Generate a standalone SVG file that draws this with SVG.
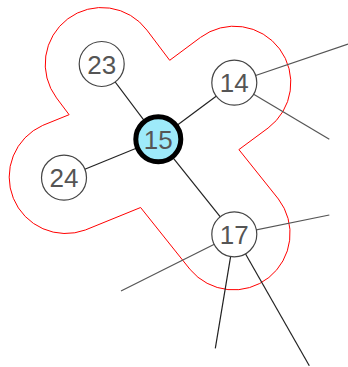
<svg xmlns="http://www.w3.org/2000/svg" width="348" height="367" viewBox="0 0 348 367">
<style>
.e{stroke:#222;stroke-width:1.2;fill:none}
.g{stroke:#555;stroke-width:1.2;fill:none}
.n circle{fill:#fff;stroke:#444;stroke-width:1.2}
.n text{font-family:"Liberation Sans",Arial,sans-serif;font-size:26px;fill:#555;text-anchor:middle}
#hull{fill:none;stroke:#f00;stroke-width:1}
</style>
<rect width="348" height="367" fill="#fff"/>
<path id="hull" d="M 69.1 114.7 L 56.5 97.9 A 56.5 56.5 0 0 1 146.9 30.1 L 169.7 60.3 L 200.5 37.4 A 56.5 56.5 0 0 1 268.1 128.0 L 238.9 149.6 L 278.4 199.0 A 56.5 56.5 0 0 1 190.2 269.6 L 140.6 207.5 L 85.3 230.0 A 56.5 56.5 0 0 1 42.7 125.4 Z"/>
<g id="connectors">
<line class="e" x1="158.3" y1="139.3" x2="101.7" y2="64"/>
<line class="e" x1="158.3" y1="139.3" x2="234.3" y2="82.7"/>
<line class="e" x1="158.3" y1="139.3" x2="64" y2="177.7"/>
<line class="e" x1="158.3" y1="139.3" x2="234.3" y2="234.3"/>
<line class="g" x1="234.3" y1="82.7" x2="348" y2="44"/>
<line class="g" x1="234.3" y1="82.7" x2="329.3" y2="139.3"/>
<line class="g" x1="234.3" y1="234.3" x2="329.3" y2="215"/>
<line class="g" x1="234.3" y1="234.3" x2="121" y2="291"/>
<line class="e" x1="234.3" y1="234.3" x2="215.3" y2="348.3"/>
<line class="e" x1="234.3" y1="234.3" x2="309.3" y2="365.7"/>
</g>
<g id="n23" class="n"><circle cx="101.7" cy="64" r="22.5"/><text x="101.7" y="73.5">23</text></g>
<g id="n14" class="n"><circle cx="234.3" cy="82.7" r="22.5"/><text x="234.3" y="92.2">14</text></g>
<g id="n24" class="n"><circle cx="64" cy="177.7" r="22.5"/><text x="64" y="187.2">24</text></g>
<g id="n17" class="n"><circle cx="234.3" cy="234.3" r="22.5"/><text x="234.3" y="243.8">17</text></g>
<g id="n15" class="n"><circle cx="158.3" cy="139.3" r="22.5" style="fill:#9eeafa;stroke:#000;stroke-width:5"/><text x="158.3" y="148.8">15</text></g>
</svg>
